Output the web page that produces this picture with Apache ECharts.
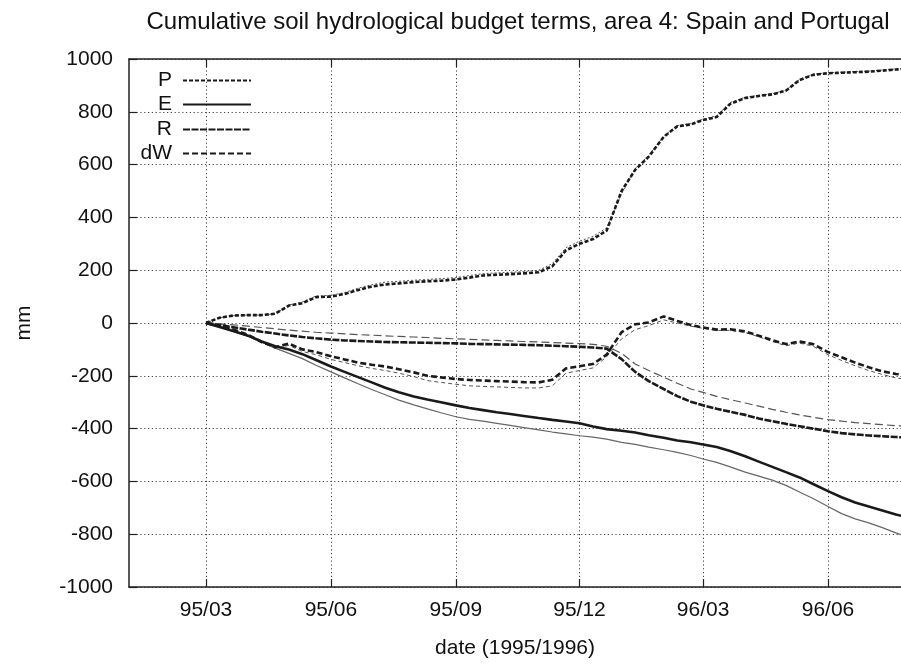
<!DOCTYPE html>
<html>
<head>
<meta charset="utf-8">
<script src="https://cdn.jsdelivr.net/npm/echarts@6/dist/echarts.min.js"></script>
<style>
  html, body { margin: 0; padding: 0; background: #fff; }
  #chart { width: 901px; height: 664px; }
</style>
</head>
<body>
<div id="chart"></div>
<script>
// Sampling dates (1st, 11th, 21st of each month)
const dates = [
  '1995-03-01','1995-03-11','1995-03-21','1995-04-01','1995-04-11','1995-04-21',
  '1995-05-01','1995-05-11','1995-05-21','1995-06-01','1995-06-11','1995-06-21',
  '1995-07-01','1995-07-11','1995-07-21','1995-08-01','1995-08-11','1995-08-21',
  '1995-09-01','1995-09-11','1995-09-21','1995-10-01','1995-10-11','1995-10-21',
  '1995-11-01','1995-11-11','1995-11-21','1995-12-01','1995-12-11','1995-12-21',
  '1996-01-01','1996-01-11','1996-01-21','1996-02-01','1996-02-11','1996-02-21',
  '1996-03-01','1996-03-11','1996-03-21','1996-04-01','1996-04-11','1996-04-21',
  '1996-05-01','1996-05-11','1996-05-21','1996-06-01','1996-06-11','1996-06-21',
  '1996-07-01','1996-07-11','1996-07-21','1996-08-01'
];

// Cumulative precipitation (mm)
const P = [
  0, 20, 28, 30, 30, 35, 66, 75, 98, 100, 110, 125,
  138, 146, 150, 155, 158, 160, 165, 172, 180, 183, 185, 188,
  192, 215, 275, 300, 318, 350, 500, 580, 630, 705, 745, 752,
  769, 780, 830, 852, 860, 866, 880, 920, 940, 946, 948, 950,
  952, 956, 960, 963
];
const P2 = [
  0, 20, 28, 30, 30, 35, 68, 80, 102, 105, 115, 132,
  145, 155, 158, 162, 165, 168, 172, 180, 187, 190, 192, 195,
  200, 225, 285, 310, 328, 360, 490, 585, 635, 708, 748, 755,
  772, 785, 835, 855, 862, 868, 882, 922, 942, 948, 950, 952,
  954, 958, 962, 965
];

// Cumulative evaporation (mm)
const E = [
  0, -15, -30, -48, -70, -88, -100, -118, -140, -165, -185, -205,
  -225, -245, -262, -278, -290, -300, -312, -322, -330, -338, -345, -352,
  -360, -367, -373, -380, -392, -402, -408, -415, -425, -435, -445, -452,
  -460, -470, -485, -505, -525, -545, -565, -585, -610, -637, -660, -680,
  -695, -710, -725, -740
];
const E2 = [
  0, -15, -32, -50, -72, -95, -115, -135, -160, -185, -208, -230,
  -252, -272, -292, -310, -325, -340, -355, -365, -372, -380, -388, -396,
  -405, -413, -420, -427, -432, -440, -452, -460, -470, -480, -490, -502,
  -515, -528, -545, -565, -580, -595, -615, -640, -665, -695, -722, -742,
  -757, -775, -795, -815
];

// Cumulative runoff (mm)
const R = [
  0, -8, -16, -25, -33, -40, -47, -53, -58, -63, -66, -68,
  -70, -72, -73, -74, -75, -76, -77, -79, -80, -81, -82, -83,
  -84, -86, -88, -90, -93, -97, -137, -185, -220, -250, -277, -298,
  -312, -325, -336, -348, -362, -372, -382, -391, -400, -410, -417, -422,
  -426, -429, -432, -435
];
const R2 = [
  0, -3, -7, -12, -17, -22, -27, -31, -35, -38, -41, -44,
  -46, -49, -51, -53, -55, -58, -60, -62, -64, -66, -68, -70,
  -72, -74, -76, -78, -81, -88, -115, -155, -180, -205, -228, -250,
  -263, -278, -290, -303, -315, -327, -338, -348, -357, -366, -372, -377,
  -381, -385, -389, -392
];

// Cumulative soil water change (mm)
const dW = [
  0, -12, -25, -45, -72, -92, -78, -100, -110, -126, -138, -150,
  -158, -165, -175, -187, -200, -206, -212, -216, -218, -220, -222, -224,
  -225, -215, -172, -164, -155, -120, -35, -5, 2, 25, 8, -8,
  -17, -25, -24, -32, -48, -65, -80, -70, -80, -110, -130, -150,
  -168, -183, -193, -200
];
const dW2 = [
  0, -12, -27, -50, -75, -95, -85, -108, -120, -138, -150, -162,
  -172, -180, -190, -203, -218, -225, -232, -238, -240, -242, -244, -246,
  -246, -238, -190, -180, -170, -128, -60, -25, -10, 12, 0, -12,
  -20, -28, -28, -36, -52, -70, -86, -76, -88, -120, -142, -162,
  -180, -195, -208, -215
];

// Axis ticks
const xTickDates = ['1995-03-01','1995-06-01','1995-09-01','1995-12-01','1996-03-01','1996-06-01'];
const xTickLabels = ['95/03', '95/06', '95/09', '95/12', '96/03', '96/06'];
const yTicks = [-1000, -800, -600, -400, -200, 0, 200, 400, 600, 800, 1000];

const FONT = 'Liberation Sans, Arial, Helvetica, sans-serif';
const FS = 21;
const DAY = 864e5;
// x is measured in days from 1 March 1995
const epoch = Date.UTC(1995, 2, 1);
const toDay = s => { const [y, m, d] = s.split('-').map(Number); return Math.round((Date.UTC(y, m - 1, d) - epoch) / DAY); };
const xMin = -56.7;
const xMax = 511.75;
const xTickValues = xTickDates.map(toDay);
const labelFor = v => { const i = xTickValues.indexOf(Math.round(v)); return i >= 0 ? xTickLabels[i] : ''; };

const pairs = vals => dates.map((d, i) => [toDay(d), vals[i]]);

function line(name, vals, color, width, type, z) {
  return {
    name, type: 'line', data: pairs(vals), symbol: 'none', smooth: false,
    lineStyle: { color, width, type }, itemStyle: { color }, z, silent: true,
    clip: true
  };
}

const series = [
  line('P ref', P2, '#555', 1, [2, 2], 2),
  line('E ref', E2, '#666', 1.2, 'solid', 2),
  line('R ref', R2, '#555', 1.2, [8, 4], 2),
  line('dW ref', dW2, '#555', 1, [4, 3], 2),
  line('P', P, '#1a1a1a', 2.6, [4, 2], 3),
  line('E', E, '#1a1a1a', 2.6, 'solid', 3),
  line('R', R, '#1a1a1a', 2.6, [7, 1.5], 3),
  line('dW', dW, '#1a1a1a', 2.6, [6, 3], 3)
];

const legendRows = [['P', 70], ['E', 94], ['R', 119], ['dW', 143]];
const legends = legendRows.map(([name, top]) => ({
  data: [name], right: 649, top, padding: 0, align: 'right', orient: 'vertical',
  itemWidth: 68, itemHeight: 18, selectedMode: false,
  itemStyle: { opacity: 0 },
  textStyle: { fontFamily: FONT, fontSize: FS, color: '#111', padding: [0, 6, 0, 0] }
}));

const dotted = { show: true, lineStyle: { color: '#444', width: 1, type: [1.2, 2.6] } };

const chart = echarts.init(document.getElementById('chart'), null, { renderer: 'canvas' });
chart.setOption({
  animation: false,
  backgroundColor: '#fff',
  title: {
    text: 'Cumulative soil hydrological budget terms, area 4: Spain and Portugal',
    left: 518, top: 10, textAlign: 'center', padding: 0,
    textStyle: { fontFamily: FONT, fontSize: 24, fontWeight: 'normal', color: '#111' }
  },
  legend: legends,
  grid: { left: 129, right: 0, top: 59, bottom: 76, containLabel: false },
  xAxis: [{
    type: 'value', min: xMin, max: xMax, position: 'bottom',
    name: 'date (1995/1996)', nameLocation: 'middle', nameGap: 51,
    nameTextStyle: { fontFamily: FONT, fontSize: FS, color: '#111' },
    axisLine: { show: true, onZero: false, lineStyle: { color: '#222', width: 1.5 } },
    axisTick: { show: true, inside: true, length: 8, customValues: xTickValues, lineStyle: { color: '#222', width: 1.2 } },
    axisLabel: { customValues: xTickValues, margin: 13, fontFamily: FONT, fontSize: FS, color: '#111', formatter: labelFor },
    splitLine: dotted
  }, {
    type: 'value', min: xMin, max: xMax, position: 'top',
    axisLine: { show: true, onZero: false, lineStyle: { color: '#222', width: 1.5 } },
    axisTick: { show: true, inside: true, length: 8, customValues: xTickValues, lineStyle: { color: '#222', width: 1.2 } },
    axisLabel: { show: false, customValues: xTickValues },
    splitLine: { show: false }
  }],
  yAxis: {
    type: 'value', min: -1000, max: 1000, interval: 200,
    name: 'mm', nameLocation: 'middle', nameGap: 94, nameRotate: 90,
    nameTextStyle: { fontFamily: FONT, fontSize: FS, color: '#111' },
    axisLine: { show: true, onZero: false, lineStyle: { color: '#222', width: 1.5 } },
    axisTick: { show: true, inside: true, length: 8, lineStyle: { color: '#222', width: 1.2 } },
    axisLabel: { margin: 16, fontFamily: FONT, fontSize: FS, color: '#111',
      formatter: v => yTicks.includes(v) ? String(v) : '' },
    splitLine: dotted
  },
  series
});
</script>
</body>
</html>
